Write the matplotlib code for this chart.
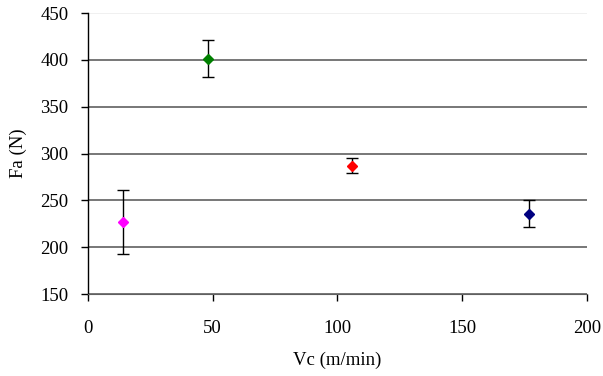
import matplotlib
matplotlib.use('Agg')
import matplotlib.pyplot as plt

# Cutting speed vs. axial force, with error bars.
vc = [14, 48, 106, 177]
fa = [227, 401, 287, 236]
err_low = [34, 19, 8, 14]
err_high = [34, 20, 8, 14]
colors = ['#ff00ff', '#008000', '#ff0000', '#000080']

plt.rcParams['font.family'] = ['Liberation Serif', 'DejaVu Serif']
plt.rcParams['font.size'] = 13.5

fig = plt.figure(figsize=(6.03, 3.76), dpi=100)
ax = fig.add_axes([0.146, 0.218, 0.827, 0.747])

for x, y, lo, hi, c in zip(vc, fa, err_low, err_high, colors):
    ax.errorbar(x, y, yerr=[[lo], [hi]], fmt='D', color=c, ecolor='black',
                elinewidth=1, capsize=4, capthick=1, markersize=5, zorder=3)

ax.set_xlim(0, 200)
ax.set_ylim(150, 450)
ax.set_xticks([0, 50, 100, 150, 200])
ax.set_yticks([150, 200, 250, 300, 350, 400, 450])
ax.yaxis.grid(True, color='#606060', linewidth=1.2)
ax.set_axisbelow(True)
# top gridline is barely visible in the original
ax.get_ygridlines()[-1].set_color('#eeeeee')

for side in ['top', 'right']:
    ax.spines[side].set_visible(False)
ax.spines['left'].set_linewidth(1)
ax.spines['bottom'].set_color('#606060')
ax.tick_params(direction='out', length=5, width=1)
ax.tick_params(axis='x', pad=14)
ax.tick_params(axis='y', pad=9)

ax.set_xlabel("Vc (m/min)", labelpad=10)
ax.set_ylabel("Fa (N)", labelpad=10)

fig.savefig('out.png', dpi=100)
